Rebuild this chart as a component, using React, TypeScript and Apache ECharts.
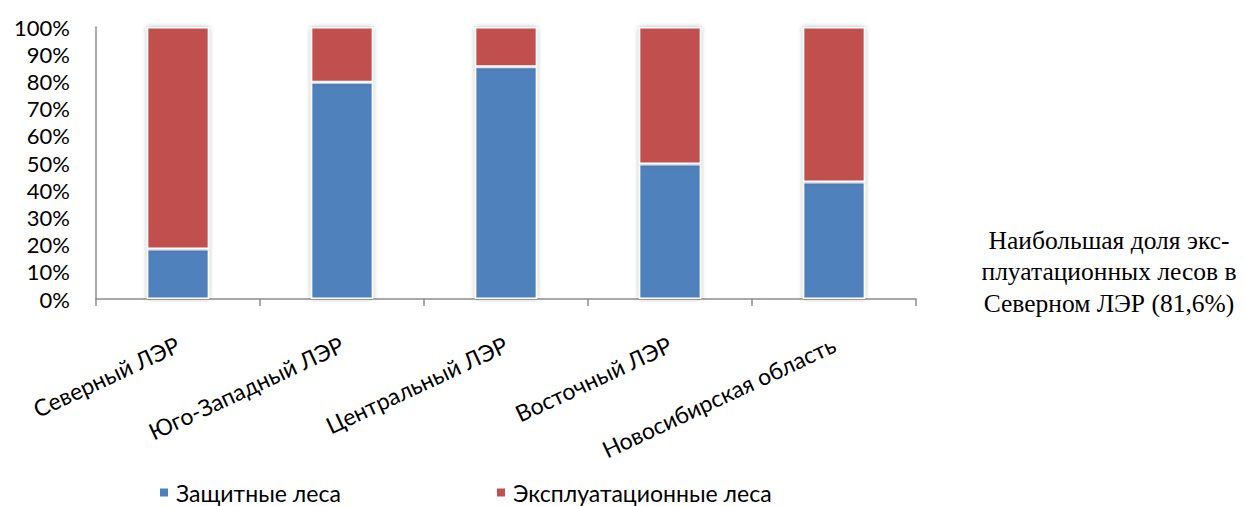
import React, { useEffect, useRef } from "react";
import * as echarts from "echarts";

const categories = ["Северный ЛЭР", "Юго-Западный ЛЭР", "Центральный ЛЭР", "Восточный ЛЭР", "Новосибирская область"];
const protectiveForests = [18.4, 79.7, 85.4, 49.6, 43.0];
const exploitationForests = [81.6, 20.3, 14.6, 50.4, 57.0];
const seriesNames = ["Защитные леса", "Эксплуатационные леса"];
const noteLines = ["Наибольшая доля экс-", "плуатационных лесов в", "Северном ЛЭР (81,6%)"];

export default function App() {
  const ref = useRef<HTMLDivElement>(null);
  useEffect(() => {
    document.body.style.margin = "0";
    const chart = echarts.init(ref.current!, null, { renderer: "svg" });
    const font = "Lato, sans-serif";
    const barStyle = (color: string) => ({
      color,
      borderColor: "#ffffff",
      borderWidth: 1.5,
      shadowBlur: 5,
      shadowColor: "rgba(0,0,0,0.28)",
    });
    const legendBase = {
      top: 481,
      padding: 0,
      itemWidth: 10,
      itemHeight: 10,
      itemGap: 0,
      icon: "rect",
      textStyle: { fontSize: 23, color: "#000", fontFamily: font, padding: [0, 0, 0, 2] },
    };
    chart.setOption({
      animation: false,
      backgroundColor: "#ffffff",
      grid: { left: 96, top: 27, right: 329, bottom: 207, containLabel: false },
      xAxis: {
        type: "category",
        data: categories,
        axisLine: { lineStyle: { color: "#8c8c8c", width: 1.5 } },
        axisTick: { show: true, length: 7, lineStyle: { color: "#8c8c8c", width: 1.5 } },
        axisLabel: { rotate: 25, fontSize: 23, color: "#000", fontFamily: font, margin: 44, interval: 0 },
      },
      yAxis: {
        type: "value",
        min: 0,
        max: 100,
        interval: 10,
        axisLine: { show: true, lineStyle: { color: "#8c8c8c", width: 1.5 } },
        axisTick: { show: false },
        splitLine: { show: false },
        axisLabel: { formatter: "{value}%", fontSize: 22, color: "#000", fontFamily: font, margin: 26 },
      },
      legend: [
        { ...legendBase, data: [seriesNames[0]], left: 158 },
        { ...legendBase, data: [seriesNames[1]], left: 495 },
      ],
      graphic: noteLines.map((t, i) => ({
        type: "text",
        x: 1109,
        y: 240 + i * 31.5,
        style: {
          text: t,
          fontSize: 25.5,
          fontFamily: "Liberation Serif",
          fill: "#000",
          align: "center",
          verticalAlign: "middle",
        },
      })),
      series: [
        {
          name: seriesNames[0],
          type: "bar",
          stack: "total",
          barWidth: "38%",
          data: protectiveForests,
          itemStyle: barStyle("#4f81bd"),
        },
        {
          name: seriesNames[1],
          type: "bar",
          stack: "total",
          barWidth: "38%",
          data: exploitationForests,
          itemStyle: barStyle("#c0504d"),
        },
      ],
    });
    return () => chart.dispose();
  }, []);
  return <div ref={ref} style={{ width: 1245, height: 506 }} />;
}
